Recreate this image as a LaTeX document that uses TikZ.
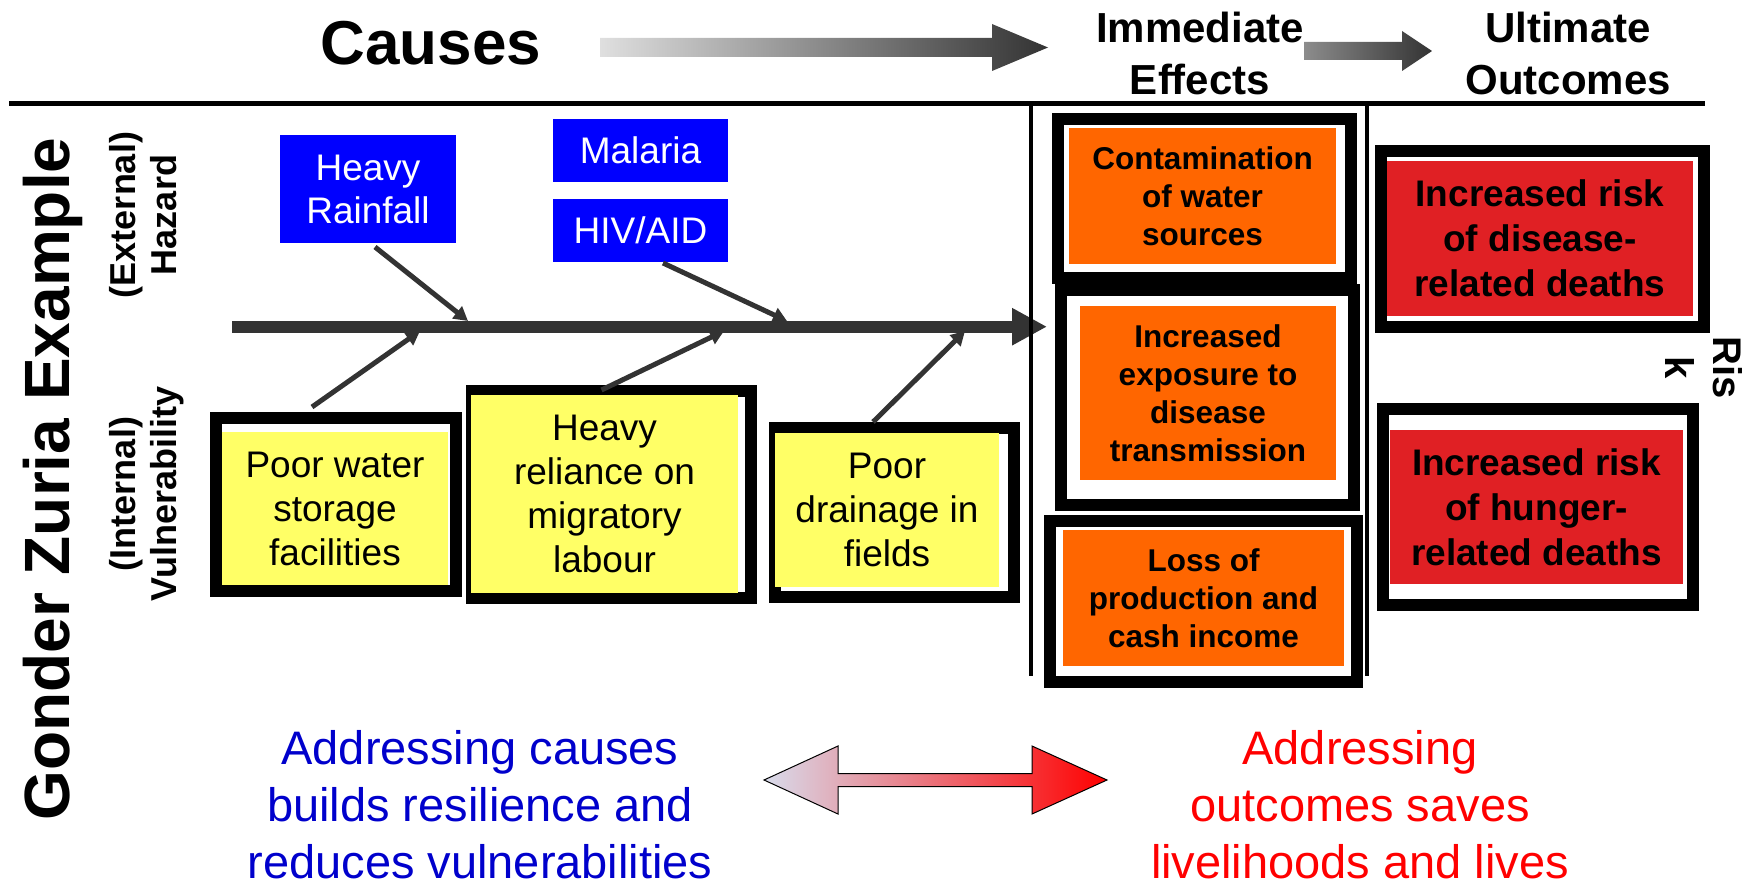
\documentclass[tikz,border=0pt]{standalone}
\usepackage{fontspec}
\setmainfont{Liberation Sans}
\usetikzlibrary{arrows.meta,calc}
\definecolor{spinegray}{HTML}{333333}
\definecolor{boxyellow}{HTML}{FFFF66}
\definecolor{boxorange}{HTML}{FF6600}
\definecolor{boxred}{HTML}{E02024}
\definecolor{boxblue}{HTML}{0000FF}
\definecolor{resblue}{HTML}{0000CC}
\definecolor{lavender}{HTML}{D8DCEC}
\begin{document}
\begin{tikzpicture}[x=1pt,y=-1pt,
  frame/.style={draw=black, line width=12pt, fill=white, inner sep=0pt, outer sep=0pt},
  ybox/.style={fill=boxyellow, inner sep=0pt, outer sep=0pt, align=center, font=\fontsize{37}{44}\selectfont},
  obox/.style={fill=boxorange, inner sep=0pt, outer sep=0pt, align=center, font=\bfseries\fontsize{31.5}{38}\selectfont},
  rbox/.style={fill=boxred, inner sep=0pt, outer sep=0pt, align=center, font=\bfseries\fontsize{37}{45}\selectfont},
  bbox/.style={fill=boxblue, text=white, inner sep=0pt, outer sep=0pt, align=center, font=\fontsize{37}{43}\selectfont},
  branch/.style={draw=spinegray, line width=5pt, -{Triangle[length=14pt,width=15pt]}},
  spine/.style={draw=spinegray, line width=12pt, -{Triangle[length=35pt,width=35pt]}},
  headtxt/.style={font=\bfseries\fontsize{42}{52}\selectfont, align=center},
  sidetxt/.style={rotate=90, align=center, font=\bfseries\fontsize{36}{41}\selectfont},
  bottomtxt/.style={align=center, font=\fontsize{47}{57}\selectfont}
]
\useasboundingbox (0,0) rectangle (1747,888);

% header
\node[font=\bfseries\fontsize{62}{70}\selectfont, anchor=base] (causes) at (431,65) {Causes};
\shade[left color=gray!25, right color=black!80] (600,38) -- (992,38) -- (992,24) -- (1048,47.5) -- (992,71) -- (992,57) -- (600,57) -- cycle;
\node[headtxt] (imm) at (1200,53) {Immediate\\Effects};
\shade[left color=black!45, right color=black!80] (1304,42) -- (1402,42) -- (1402,31) -- (1432,51) -- (1402,71) -- (1402,60) -- (1304,60) -- cycle;
\node[headtxt] (ult) at (1568,53) {Ultimate\\Outcomes};
\draw[line width=5pt] (9,104) -- (1705,104);

% left labels
\node[rotate=90, anchor=base, font=\bfseries\fontsize{64}{70}\selectfont] (title) at (69,479) {Gonder Zuria Example};
\node[sidetxt] (haz) at (143,215) {(External)\\Hazard};
\node[sidetxt] (vul) at (147,494) {(Internal)\\Vulnerability};

% hazards
\node[bbox, minimum width=176pt, minimum height=108pt] (rain) at (368,189) {Heavy\\Rainfall};
\node[bbox, minimum width=175pt, minimum height=63pt] (malaria) at (640.5,150.5) {Malaria};
\node[bbox, minimum width=175pt, minimum height=63pt] (hiv) at (640.5,230.5) {HIV/AID};

% vulnerabilities
\node[frame, minimum width=240pt, minimum height=173pt] (f1) at (336,504.5) {};
\node[ybox, minimum width=226pt, minimum height=153pt] (y1) at (335,508.5) {Poor water\\storage\\facilities};
\node[frame, minimum width=279pt, minimum height=207pt] (f2) at (611.5,494.5) {};
\node[ybox, minimum width=267pt, minimum height=198pt] (y2) at (604.5,494) {Heavy\\reliance on\\migratory\\labour};
\node[frame, minimum width=239pt, minimum height=169pt] (f3) at (894.5,512.5) {};
\node[ybox, minimum width=224pt, minimum height=154pt] (y3) at (887,510) {Poor\\drainage in\\fields};

% spine and branches
\coordinate (sp0) at (232,326.7);
\coordinate (sp1) at (1047,326.7);
\draw[spine] (sp0) -- (sp1);
\coordinate (t1) at (468,321);
\coordinate (t2) at (787,321);
\coordinate (t3) at (420,331);
\coordinate (t4) at (724,331);
\coordinate (t5) at (965,331);
\draw[branch] ($(rain.south)+(7,4)$) -- (t1);
\draw[branch] ($(hiv.south)+(22.5,1)$) -- (t2);
\draw[branch] ($(f1.north)+(-24,-11)$) -- (t3);
\draw[branch] ($(f2.north)+(-10,-1)$) -- (t4);
\draw[branch] ($(f3.north)+(-21.5,-6)$) -- (t5);

% immediate effects
\node[frame, minimum width=293pt, minimum height=159pt] (fo1) at (1204.5,198.5) {};
\node[frame, minimum width=293pt, minimum height=215pt] (fo2) at (1207.5,397.5) {};
\node[frame, minimum width=307pt, minimum height=161pt] (fo3) at (1203.5,601.5) {};
\node[obox, minimum width=267pt, minimum height=136pt] (o1) at (1202.5,196) {Contamination\\of water\\sources};
\node[obox, minimum width=256pt, minimum height=174pt] (o2) at (1208,393) {Increased\\exposure to\\disease\\transmission};
\node[obox, minimum width=281pt, minimum height=136pt] (o3) at (1203.5,598) {Loss of\\production and\\cash income};

% separators
\draw[line width=4pt] (1031,104) -- (1031,676);
\draw[line width=4pt] (1367,104) -- (1367,676);

% ultimate outcomes
\node[frame, minimum width=323pt, minimum height=176pt] (fr1) at (1542.5,239) {};
\node[rbox, minimum width=306pt, minimum height=155pt] (r1) at (1540,238.5) {Increased risk\\of disease-\\related deaths};
\node[frame, minimum width=310pt, minimum height=196pt] (fr2) at (1538,507) {};
\node[rbox, minimum width=293pt, minimum height=154pt] (r2) at (1536.5,507) {Increased risk\\of hunger-\\related deaths};
\node[rotate=-90, align=center, font=\bfseries\fontsize{40}{48}\selectfont] (risk) at (1704,367.5) {Ris\\k};

% bottom
\node[bottomtxt, text=resblue] (resil) at (480,805) {Addressing causes\\builds resilience and\\reduces vulnerabilities};
\node[bottomtxt, text=red] (save) at (1360,805) {Addressing\\outcomes saves\\livelihoods and lives};
\shadedraw[left color=lavender, right color=red, draw=black, line width=1pt] (764,780) -- (838,746) -- (838,773.5) -- (1032,773.5) -- (1032,746) -- (1107,780) -- (1032,814) -- (1032,786.5) -- (838,786.5) -- (838,814) -- cycle;
\end{tikzpicture}
\end{document}
